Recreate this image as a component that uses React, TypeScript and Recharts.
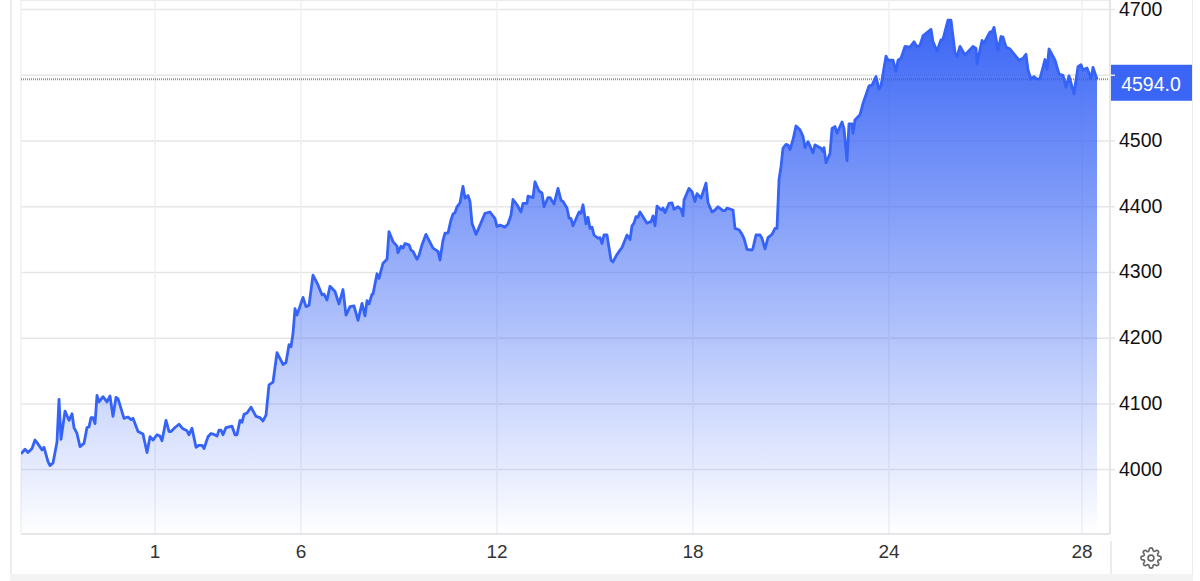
import React from "react";
import { ComposedChart, Area, XAxis, YAxis, CartesianGrid, ReferenceLine } from "recharts";

const sessionPos = [0,4,7,11,14,17,21,23,27,29,32,36,38,40,44,48,51,53,56,59,63,66,68,70,72,74,76,78,82,86,89,92,95,97,103,107,110,112,117,122,126,129,132,136,139,141,145,148,150,154,158,162,166,168,171,175,178,181,183,187,190,192,196,198,200,202,205,211,214,216,219,221,223,226,230,235,239,242,245,
248,252,256,262,265,268,270,272,274,276,282,285,288,292,297,301,303,306,309,314,318,322,325,329,333,337,341,344,346,348,351,352,356,358,362,366,368,372,376,377,380,382,384,388,390,392,396,398,401,405,407,412,417,419,422,424,427,430,432,434,436,439,442,444,447,449,451,455,459,464,469,474,476,479,484,487,490,492,496,500,502,506,507,512,514,518,
521,523,527,529,533,537,540,542,546,548,550,552,558,560,562,565,567,569,571,573,577,579,581,583,586,590,592,595,599,601,606,609,611,613,615,617,619,626,629,630,632,634,636,638,641,642,644,648,651,653,657,660,662,663,668,671,674,676,680,685,687,691,694,697,702,704,706,712,714,718,721,723,726,731,732,735,739,741,744,747,751,754,756,758,760,762,765,767,769,772,775,
779,782,784,787,792,794,800,802,803,805,809,811,814,816,821,823,826,828,831,832,834,839,842,848,851,855,858,860,865,867,872,875,877,880,884,889,893,896,899,902,910,912,916,920,922,927,930,934,936,939,944,952,955,956,961,963,969,971,973,977,980,982,985,989,998,1002,1005,1007,1010,1013,1016,1019,1024,1026,1028,1034,1038,1042,1045,1048,1053,1057,1060,1062,1066,1070,1072,1076];

const prices = [4024,4031,4026,4032,4045,4039,4030,4034,4012,4006,4010,4042,4107,4046,4089,4075,4085,4064,4055,4035,4040,4064,4065,4079,4079,4070,4113,4103,4111,4103,4112,4081,4110,4108,4078,4080,4076,4078,4058,4054,4026,4050,4045,4053,4051,4044,4075,4058,4058,4064,4069,4062,4059,4053,4063,4034,4037,4037,4032,4050,4055,4054,4051,4060,4060,4053,4064,4066,4053,4053,4075,4072,4084,4086,4095,4081,4079,4074,4083,
4129,4133,4178,4160,4163,4190,4187,4207,4245,4235,4262,4248,4250,4296,4281,4266,4267,4258,4279,4271,4252,4274,4235,4248,4249,4227,4253,4234,4257,4252,4267,4267,4298,4291,4314,4320,4362,4347,4340,4330,4340,4337,4344,4342,4334,4332,4320,4326,4342,4358,4352,4337,4332,4319,4349,4360,4360,4380,4389,4391,4400,4406,4431,4413,4417,4408,4375,4358,4372,4390,4392,4382,4370,4372,4369,4374,4387,4411,4403,4392,4405,4405,4416,4414,4438,4424,
4421,4400,4414,4414,4404,4428,4410,4408,4398,4383,4382,4371,4392,4390,4403,4374,4384,4367,4369,4357,4352,4353,4344,4357,4357,4319,4316,4325,4334,4338,4357,4350,4371,4375,4385,4384,4392,4375,4377,4377,4386,4371,4401,4398,4395,4398,4391,4405,4406,4396,4400,4396,4386,4410,4428,4423,4408,4420,4413,4436,4406,4392,4395,4400,4394,4394,4398,4395,4367,4365,4358,4352,4335,4334,4337,4357,4357,4352,4336,4353,4358,4367,4367,4441,4461,4489,4495,4494,4487,4502,4523,
4517,4507,4490,4499,4482,4494,4489,4484,4490,4467,4481,4519,4522,4512,4529,4519,4470,4526,4526,4512,4532,4540,4557,4584,4585,4598,4579,4584,4629,4623,4623,4606,4623,4626,4644,4643,4651,4643,4646,4660,4670,4651,4637,4654,4655,4684,4684,4634,4629,4644,4631,4644,4641,4618,4653,4649,4666,4666,4673,4638,4659,4658,4643,4640,4623,4626,4632,4608,4594,4598,4594,4595,4624,4609,4640,4623,4602,4600,4582,4599,4572,4613,4616,4608,4611,4595,4612,4594];

const tickPos = [134, 280, 476, 672, 868, 1061];
const tickLabels = ["1", "6", "12", "18", "24", "28"];
const yTicks = [4000, 4100, 4200, 4300, 4400, 4500, 4600, 4700];
const hiddenTick = 4600;
const lastPrice = 4594;

const data = sessionPos.map((t, i) => ({ t, price: prices[i] }));
const FONT = "'Liberation Sans', Arial, sans-serif";
const BLUE = "#3b66f5";

const PriceTag = ({ viewBox }: any) => {
  const right = viewBox.x + viewBox.width;
  const y = viewBox.y;
  return (
    <g>
      <rect x={right + 1} y={y - 14.5} width={81} height={36} fill={BLUE} />
      <text x={right + 41} y={y + 12} textAnchor="middle" fill="#fff" fontSize={19.5} fontFamily={FONT}>
        {lastPrice.toFixed(1)}
      </text>
    </g>
  );
};

const box = (l: number, t: number, w: number, h: number, c: string): React.CSSProperties => ({
  position: "absolute", left: l, top: t, width: w, height: h, background: c,
});

export default function App() {
  return (
    <div style={{ position: "absolute", left: 0, top: 0, width: 1200, height: 581, background: "#fff", overflow: "hidden" }}>
      <div style={box(10, 0, 2, 581, "#ececec")} />
      <div style={box(1192, 0, 1, 575, "#ececec")} />
      <div style={box(10, 574, 1183, 7, "#f3f3f3")} />
      <div style={box(1110, 541, 2, 33, "#ececec")} />
      <div style={{ position: "absolute", left: 0, top: 0 }}>
        <ComposedChart
          width={1200}
          height={581}
          data={data}
          margin={{ top: 0, right: 8, bottom: 7, left: 21 }}
        >
          <defs>
            <linearGradient id="fillBlue" x1="0" y1="0" x2="0" y2="1">
              <stop offset="0%" stopColor="#3b66f5" stopOpacity={1} />
              <stop offset="100%" stopColor="#3b66f5" stopOpacity={0} />
            </linearGradient>
          </defs>
          <CartesianGrid vertical={false} stroke="#e6e6e6" strokeWidth={1.5} />
          <CartesianGrid horizontal={false} stroke="#eef1f6" strokeWidth={1.5} />
          <XAxis
            dataKey="t"
            type="number"
            domain={[0, 1089]}
            ticks={tickPos}
            tickFormatter={(v: number) => tickLabels[tickPos.indexOf(v)]}
            interval={0}
            height={40}
            axisLine={{ stroke: "#e6e6e6", strokeWidth: 2 }}
            tickLine={false}
            tick={{ fontSize: 19, fill: "#333", fontFamily: FONT, dy: 3 }}
            allowDataOverflow
          />
          <YAxis
            orientation="right"
            domain={[3902, 4714.6]}
            ticks={yTicks}
            tickFormatter={(v: number) => (v === hiddenTick ? "" : String(v))}
            interval={0}
            width={82}
            axisLine={{ stroke: "#e6e6e6", strokeWidth: 2 }}
            tickLine={{ stroke: "#e6e6e6", strokeWidth: 1.5 }}
            tickSize={5}
            tick={{ fontSize: 19.5, fill: "#111", fontFamily: FONT, dy: -1, dx: 2 }}
            allowDataOverflow
          />
          <Area
            dataKey="price"
            type="linear"
            stroke="#3563f7"
            strokeWidth={2.8}
            strokeLinejoin="round"
            fill="url(#fillBlue)"
            fillOpacity={1}
            dot={false}
            activeDot={false}
            isAnimationActive={false}
          />
          <ReferenceLine
            y={lastPrice}
            stroke="#2f5cf5"
            strokeWidth={2}
            strokeDasharray="1 1"
            strokeOpacity={0.7}
            label={<PriceTag />}
            ifOverflow="visible"
          />
        </ComposedChart>
      </div>
      <svg style={{ position: "absolute", left: 1140, top: 547 }} width={22} height={22} viewBox="0 0 24 24" fill="none" stroke="#666" strokeWidth={1.8}>
        <circle cx={12} cy={12} r={3.2} />
        <path d="M19.4 15a1.65 1.65 0 0 0 .33 1.82l.06.06a2 2 0 1 1-2.83 2.83l-.06-.06a1.65 1.65 0 0 0-2.82 1.17V21a2 2 0 1 1-4 0v-.09a1.65 1.65 0 0 0-2.82-1.17l-.06.06a2 2 0 1 1-2.83-2.83l.06-.06A1.65 1.65 0 0 0 3.09 14H3a2 2 0 1 1 0-4h.09a1.65 1.65 0 0 0 1.17-2.82l-.06-.06a2 2 0 1 1 2.83-2.83l.06.06A1.65 1.65 0 0 0 10 3.09V3a2 2 0 1 1 4 0v.09a1.65 1.65 0 0 0 2.82 1.17l.06-.06a2 2 0 1 1 2.83 2.83l-.06.06A1.65 1.65 0 0 0 20.91 10H21a2 2 0 1 1 0 4h-.09a1.65 1.65 0 0 0-1.51 1z" />
      </svg>
    </div>
  );
}
